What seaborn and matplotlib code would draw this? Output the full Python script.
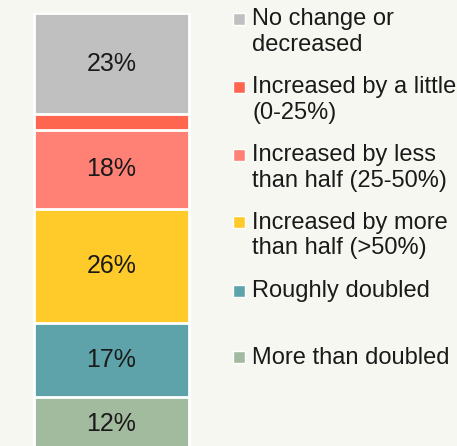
import matplotlib
matplotlib.use("Agg")
import matplotlib.pyplot as plt
import seaborn as sns
import numpy as np
from matplotlib.patches import Rectangle

sns.set_theme(style="white")
plt.rcParams["font.family"] = ["Liberation Sans", "DejaVu Sans"]

# data, bottom to top
categories = ["More than doubled", "Roughly doubled",
              "Increased by more\nthan half (>50%)",
              "Increased by less\nthan half (25-50%)",
              "Increased by a little\n(0-25%)",
              "No change or\ndecreased"]
shares = [12, 17, 26, 18, 3.5, 23]
labels = ["12%", "17%", "26%", "18%", "", "23%"]
colors = ["#A2BA9D", "#5EA3A9", "#FFCB2A", "#FF8075", "#FF6650", "#C0C0C0"]

bg = "#F7F7F2"
fig = plt.figure(figsize=(4.57, 4.46), dpi=100)
fig.patch.set_facecolor(bg)

W, H = 457, 446
top = sum(shares) + 0.1
ax = fig.add_axes([32 / W, -4 / H, 159 / W, 437 / H])
ax.set_facecolor(bg)

cum = np.cumsum(shares)
# draw cumulative bars from tallest to shortest so they stack
for i in range(len(shares) - 1, -1, -1):
    sns.barplot(x=["all"], y=[cum[i]], color=colors[i], width=1.0,
                edgecolor="white", linewidth=2, saturation=1, ax=ax)

for i, lab in enumerate(labels):
    if lab:
        ax.text(0, cum[i] - shares[i] / 2, lab, ha="center", va="center",
                fontsize=18, color="#1a1a1a")

ax.set_xlim(-0.51, 0.51)
ax.set_ylim(0, top)
ax.axis("off")

# legend, top to bottom
box_y = [19, 87, 155, 222, 291, 357]
for k, yc in enumerate(box_y):
    i = len(categories) - 1 - k
    fig.patches.append(Rectangle((233 / W, 1 - (yc + 6) / H), 12 / W, 12 / H,
                                 transform=fig.transFigure, facecolor=colors[i],
                                 edgecolor="white", linewidth=1))
    fig.text(252 / W, 1 - (yc - 10.5) / H, categories[i], ha="left", va="top",
             fontsize=17, color="#1a1a1a", linespacing=1.2)

fig.savefig("out.png", dpi=100, facecolor=bg)
